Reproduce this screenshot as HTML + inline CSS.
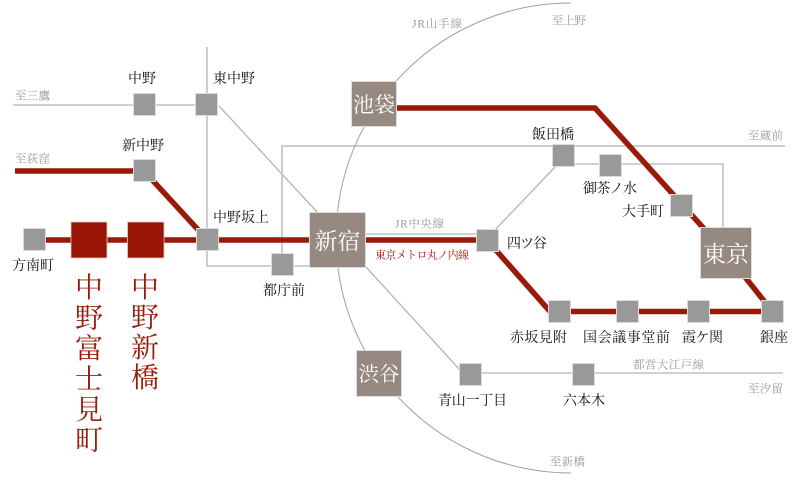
<!DOCTYPE html>
<html><head><meta charset="utf-8"><style>
html,body{margin:0;padding:0;background:#fff;}
svg{display:block;}
.lbl{font-family:"Liberation Serif","Noto Serif CJK SC",serif;font-size:14px;fill:#111;}
.sm{font-family:"Liberation Serif","Noto Serif CJK SC",serif;font-size:11.5px;fill:#9a9a9a;}
.big{font-family:"Liberation Serif","Noto Serif CJK SC",serif;fill:#fff;text-anchor:middle;}
.vt{font-family:"Liberation Serif","Noto Serif CJK SC",serif;font-size:28px;fill:#9a1a0a;text-anchor:middle;}
</style></head><body>
<svg width="800" height="480" viewBox="0 0 800 480" xmlns="http://www.w3.org/2000/svg">
<!-- gray lines -->
<g fill="none" stroke="#b4b4b4" stroke-width="1.3">
<path d="M13,105 H207"/>
<path d="M207,47 V266 H309"/>
<path d="M219,106 L318,213"/>
<path d="M556,166 L494,231"/>
<path d="M563,164 H723 V227"/>
<path d="M366,234 H476"/>
<path d="M366,267 L460,370"/>
<path d="M482,373 H783"/>
</g>
<path d="M282,253 V146 H785" fill="none" stroke="#c6c6c6" stroke-width="1.8"/>
<path d="M571,3 A235,235 0 0 0 571,473" fill="none" stroke="#a0a0a0" stroke-width="1"/>
<!-- red lines -->
<g fill="none" stroke="#9a1a0a" stroke-width="5.5" stroke-linejoin="miter">
<path d="M15,171 H144 L207.5,240"/>
<path d="M35,240 H487 L550,311.5 H772"/>
<path d="M397,108 H595 L726,253 L772,311"/>
</g>
<!-- small stations -->
<g fill="#999" stroke="#dcdcdc" stroke-width="1">
<rect x="133.5" y="93.5" width="22" height="22"/>
<rect x="195.5" y="93.5" width="22" height="22"/>
<rect x="133.5" y="159.5" width="22" height="22"/>
<rect x="196.5" y="228.5" width="22" height="22"/>
<rect x="23.5" y="228.5" width="22" height="22"/>
<rect x="271.5" y="253.5" width="22" height="22"/>
<rect x="476.5" y="229.5" width="22" height="22"/>
<rect x="552.5" y="144.5" width="22" height="22"/>
<rect x="599.5" y="154.5" width="22" height="22"/>
<rect x="670.5" y="194.5" width="22" height="22"/>
<rect x="548.5" y="300.5" width="22" height="22"/>
<rect x="616.5" y="300.5" width="22" height="22"/>
<rect x="687.5" y="300.5" width="22" height="22"/>
<rect x="761.5" y="300.5" width="22" height="22"/>
<rect x="459.5" y="363.5" width="22" height="22"/>
<rect x="572.5" y="363.5" width="22" height="22"/>
</g>
<!-- red stations -->
<g fill="#991505" stroke="#e6c8c4" stroke-width="0.8">
<rect x="71" y="222" width="36" height="36"/>
<rect x="127.5" y="222" width="36.5" height="36"/>
</g>
<!-- big stations -->
<g fill="#958981" stroke="#e0dcda" stroke-width="1">
<rect x="309.5" y="212.5" width="56" height="55"/>
<rect x="351.5" y="81.5" width="45" height="45"/>
<rect x="356.5" y="350.5" width="45" height="46"/>
<rect x="700.5" y="227.5" width="51" height="51"/>
</g>
<text class="big" x="337.5" y="249" font-size="23">新宿</text>
<text class="big" x="374" y="112" font-size="21">池袋</text>
<text class="big" x="379" y="381" font-size="20.5">渋谷</text>
<text class="big" x="726" y="262" font-size="23">東京</text>
<!-- station labels -->
<text class="lbl" x="128" y="83">中野</text>
<text class="lbl" x="213" y="83">東中野</text>
<text class="lbl" x="122" y="150">新中野</text>
<text class="lbl" x="213" y="222">中野坂上</text>
<text class="lbl" x="12" y="270" font-size="13.5">方南町</text>
<text class="lbl" x="263" y="295">都庁前</text>
<text class="lbl" x="532" y="139">飯田橋</text>
<text class="lbl" x="583" y="193" textLength="54">御茶ノ水</text>
<text class="lbl" x="622" y="216">大手町</text>
<text class="lbl" x="507" y="248" textLength="40">四ツ谷</text>
<text class="lbl" x="510" y="342" textLength="57">赤坂見附</text>
<text class="lbl" x="583" y="342" textLength="87">国会議事堂前</text>
<text class="lbl" x="682" y="342" textLength="41">霞ケ関</text>
<text class="lbl" x="760" y="342">銀座</text>
<text class="lbl" x="438" y="405" textLength="69">青山一丁目</text>
<text class="lbl" x="563" y="405">六本木</text>
<!-- small gray labels -->
<text class="sm" x="15" y="99.5" textLength="35">至三鷹</text>
<text class="sm" x="15" y="162.5" textLength="35">至荻窪</text>
<text class="sm" x="412" y="27.5" textLength="50">JR山手線</text>
<text class="sm" x="552" y="24.5" textLength="34">至上野</text>
<text class="sm" x="748" y="139.5" textLength="35">至蔵前</text>
<text class="sm" x="395" y="227.5" textLength="49">JR中央線</text>
<text class="sm" x="375" y="258.5" textLength="94" style="fill:#9a1a0a;font-size:11px">東京メトロ丸ノ内線</text>
<text class="sm" x="633" y="368.5" textLength="71">都営大江戸線</text>
<text class="sm" x="748" y="392.5" textLength="35">至汐留</text>
<text class="sm" x="550" y="465.5" textLength="35">至新橋</text>
<!-- vertical red labels -->
<g class="vt">
<text x="89" y="297">中</text>
<text x="89" y="327.5">野</text>
<text x="89" y="358">富</text>
<text x="89" y="388.5">士</text>
<text x="89" y="419">見</text>
<text x="89" y="449.5">町</text>
<text x="145" y="297">中</text>
<text x="145" y="327">野</text>
<text x="145" y="357">新</text>
<text x="145" y="387">橋</text>
</g>
</svg>
</body></html>
